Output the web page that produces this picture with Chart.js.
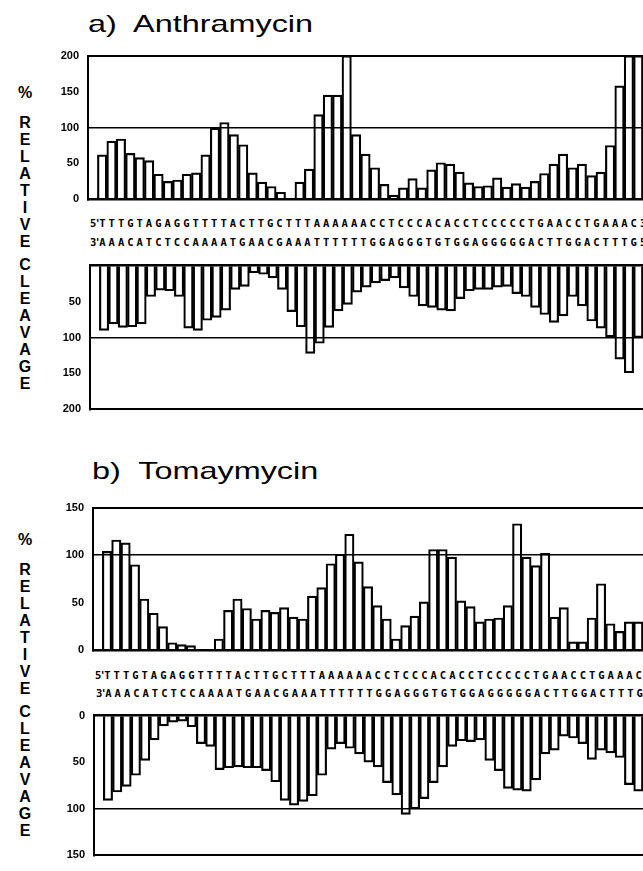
<!DOCTYPE html>
<html>
<head>
<meta charset="utf-8">
<script src="https://cdn.jsdelivr.net/npm/chart.js@4.4.1/dist/chart.umd.min.js"></script>
<style>
  body { margin: 0; width: 643px; height: 871px; overflow: hidden; background: #fff; position: relative;
         font-family: "Liberation Sans", Arial, sans-serif; color: #000; }
  .title { position: absolute; font-size: 24px; line-height: 24px; white-space: pre;
           transform: scaleX(1.35); transform-origin: 0 0; }
  .seq { position: absolute; font-family: "DejaVu Sans Mono", monospace; font-weight: bold;
         font-size: 10.5px; line-height: 11px; letter-spacing: 3px; white-space: pre; }
  .seq .end { letter-spacing: -1.7px; }
  .stack { position: absolute; left: 14px; width: 22px; text-align: center; font-weight: bold;
           font-size: 16px; line-height: 17px; }
  .box { position: absolute; left: 40px; }
  canvas { display: block; }
</style>
</head>
<body>

<div class="title" style="left:88px;top:12px">a)  Anthramycin</div>
<div class="title" style="left:92px;top:459px">b)  Tomaymycin</div>

<div class="stack" id="labA" style="top:84px"></div>
<div class="stack" id="labB" style="top:531px"></div>

<div class="box" style="top:40px"><canvas id="aTop" width="603" height="175"></canvas></div>
<div class="seq" id="seqA5" style="left:90px;top:218px"></div>
<div class="seq" id="seqA3" style="left:90px;top:237px"></div>
<div class="box" style="top:250px"><canvas id="aBot" width="603" height="175"></canvas></div>

<div class="box" style="top:492px"><canvas id="bTop" width="603" height="174"></canvas></div>
<div class="seq" id="seqB5" style="left:95px;top:670px"></div>
<div class="seq" id="seqB3" style="left:96px;top:688px"></div>
<div class="box" style="top:700px"><canvas id="bBot" width="603" height="171"></canvas></div>

<script>
// DNA sequence (one bar per nucleotide)
var topStrand = 'TTTGTAGAGGTTTTACTTGCTTTAAAAAACCTCCCACACCTCCCCCTGAACCTGAAAC';
var botStrand = 'AAACATCTCCAAAATGAACGAAATTTTTTGGAGGGTGTGGAGGGGGACTTGGACTTTG';

// % relative cleavage
var anthraTop = [62, 81, 84, 64, 58, 54, 35, 25, 27, 35, 37, 62, 99, 107, 90, 76, 37, 24, 18, 10,
                 0, 24, 42, 118, 145, 145, 200, 90, 63, 44, 21, 6, 16, 29, 16, 41, 51, 49, 38, 23,
                 18, 19, 30, 17, 22, 17, 25, 36, 49, 63, 44, 49, 33, 38, 75, 158, 200, 200];
var anthraBot = [90, 81, 86, 85, 81, 43, 34, 35, 43, 87, 90, 76, 72, 62, 33, 29, 10, 12, 17, 33,
                 64, 85, 122, 108, 86, 63, 54, 37, 30, 24, 21, 17, 31, 43, 56, 58, 62, 63, 46, 35,
                 33, 33, 30, 29, 39, 43, 58, 68, 79, 70, 43, 56, 77, 87, 99, 130, 149, 100];
var tomaTop = [104, 116, 113, 90, 54, 39, 25, 8, 6, 5, 0, 0, 12, 42, 54, 44, 33, 42, 40, 45,
               35, 33, 57, 66, 91, 101, 122, 93, 67, 47, 33, 12, 26, 36, 51, 106, 106, 98, 52, 46,
               30, 33, 34, 47, 133, 98, 89, 102, 35, 45, 9, 9, 34, 70, 28, 20, 30, 30];
var tomaBot = [91, 82, 76, 64, 48, 26, 11, 7, 6, 12, 30, 33, 58, 56, 55, 56, 56, 59, 71, 91,
               96, 92, 86, 64, 36, 30, 35, 41, 50, 55, 72, 85, 106, 100, 89, 72, 55, 33, 27, 28,
               26, 48, 59, 78, 80, 81, 69, 41, 37, 22, 24, 30, 47, 37, 40, 45, 74, 81];

var anthraTicks = [0, 50, 100, 150, 200];
var tomaTicks = [0, 50, 100, 150];

function fillSeq(id, prime1, seq, prime2) {
  var el = document.getElementById(id);
  el.innerHTML = '<span class="end">' + prime1 + '</span>' + seq + '<span class="end">' + prime2 + '</span>';
}
fillSeq('seqA5', "5'", topStrand, "3'");
fillSeq('seqA3', "3'", botStrand, "5'");
fillSeq('seqB5', "5'", topStrand, "3'");
fillSeq('seqB3', "3'", botStrand, "5'");

function fillStack(id) {
  var words = ['%', '', 'RELATIVE', '', 'CLEAVAGE'];
  var html = '';
  words.forEach(function (w, i) {
    if (w === '') { html += '<div style="height:' + (i === 1 ? 13 : 6) + 'px"></div>'; return; }
    w.split('').forEach(function (c) { html += '<div>' + c + '</div>'; });
  });
  document.getElementById(id).innerHTML = html;
}
fillStack('labA');
fillStack('labB');

function panel(id, values, letters, tickVals, opt) {
  var max = tickVals[tickVals.length - 1];
  new Chart(document.getElementById(id), {
    type: 'bar',
    data: {
      labels: [''].concat(letters.split('')),
      datasets: [{
        data: [null].concat(values),
        backgroundColor: 'rgba(0,0,0,0)',
        borderColor: '#000',
        borderWidth: 1.5,
        barPercentage: 1,
        categoryPercentage: 1
      }]
    },
    options: {
      responsive: false,
      animation: false,
      devicePixelRatio: 1,
      layout: { padding: { top: opt.padTop, bottom: opt.padBottom, left: 0, right: 0 } },
      plugins: { legend: { display: false }, tooltip: { enabled: false } },
      scales: {
        x: {
          position: opt.down ? 'top' : 'bottom',
          ticks: { display: false },
          grid: { display: false },
          border: { display: true, color: '#000', width: 2.5 }
        },
        y: {
          min: 0,
          max: max,
          reverse: !!opt.down,
          afterFit: function (s) { s.width = opt.axisWidth; },
          afterBuildTicks: function (s) { s.ticks = tickVals.map(function (v) { return { value: v }; }); },
          ticks: {
            color: '#000',
            padding: 9,
            font: { family: 'Liberation Sans, Arial, sans-serif', size: 11, weight: 'bold' },
            callback: function (v) { return (opt.hideZero && v === 0) ? '' : v; }
          },
          grid: {
            drawTicks: false,
            color: function (c) { return (c.tick && (c.tick.value === 100 || c.tick.value === max)) ? '#000' : 'rgba(0,0,0,0)'; },
            lineWidth: function (c) { return (c.tick && c.tick.value === max) ? 2 : 1.5; }
          },
          border: { display: true, color: '#000', width: 2 }
        }
      }
    }
  });
}

panel('aTop', anthraTop, topStrand, anthraTicks, { padTop: 12, padBottom: 3, axisWidth: 48 });
panel('aBot', anthraBot, botStrand, anthraTicks, { padTop: 5, padBottom: 9, axisWidth: 50, down: true, hideZero: true });
panel('bTop', tomaTop, topStrand, tomaTicks, { padTop: 12, padBottom: 3, axisWidth: 53 });
panel('bBot', tomaBot, botStrand, tomaTicks, { padTop: 7, padBottom: 4, axisWidth: 54, down: true });
</script>
</body>
</html>
